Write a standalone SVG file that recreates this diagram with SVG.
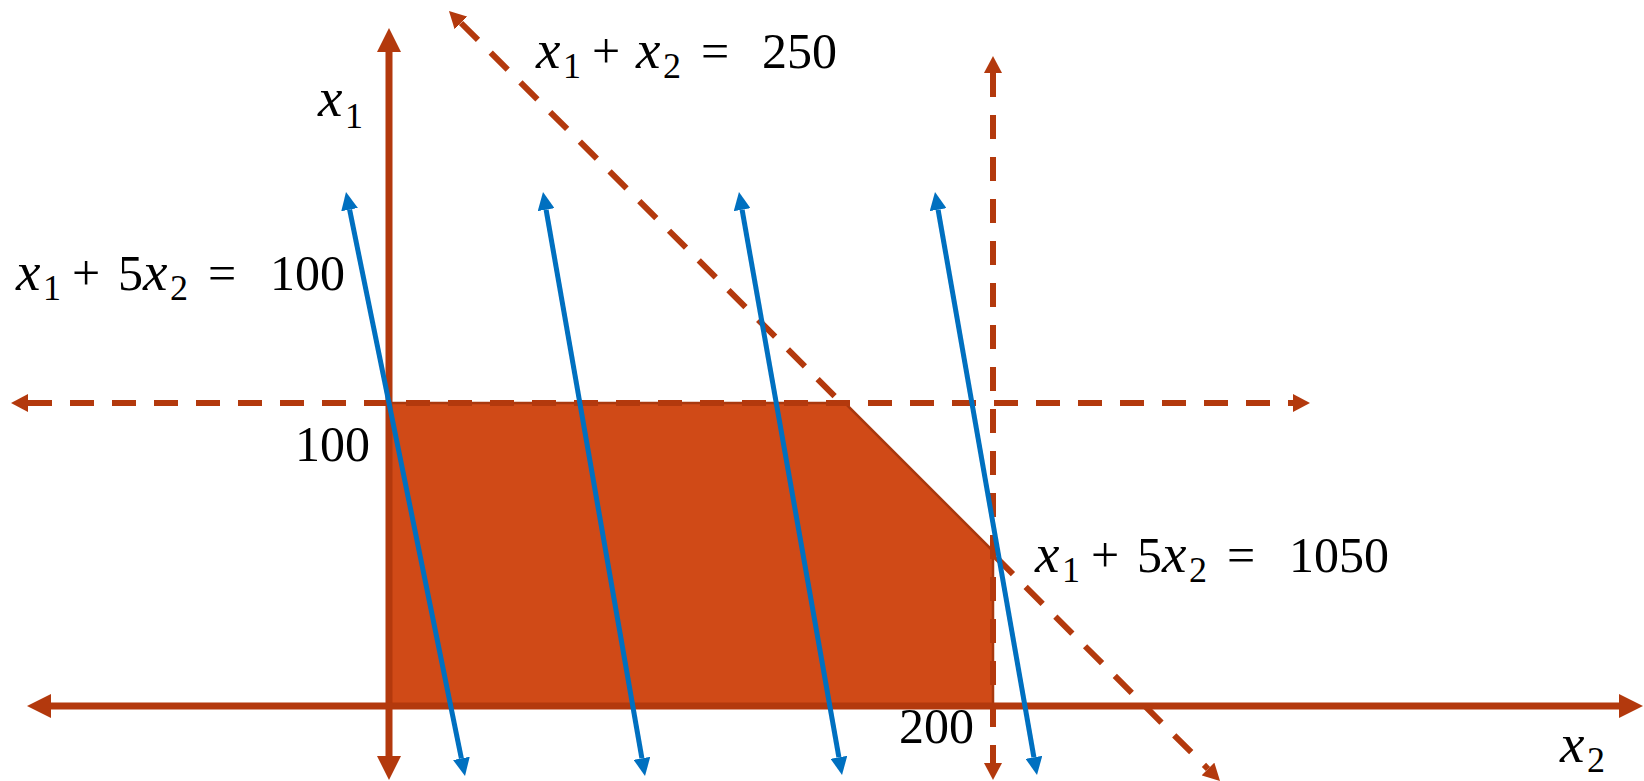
<svg xmlns="http://www.w3.org/2000/svg" width="1644" height="781" viewBox="0 0 1644 781">
<style>
.axis{stroke:#B3390D;stroke-width:7;fill:none}
.dash{stroke:#B3390D;stroke-width:6;fill:none;stroke-dasharray:24 18}
.obj{stroke:#0070C0;stroke-width:5;fill:none}
.region{fill:#D04A17;stroke:#A8380E;stroke-width:2.5}
text{font-family:"Liberation Serif","Times New Roman",serif;font-size:50px;fill:#000}
.v{font-style:italic;font-size:55px}
.s{font-size:36px}
</style>
<defs>
<marker id="ahAxis" markerUnits="userSpaceOnUse" viewBox="0 -12 24 24" markerWidth="24" markerHeight="24" refX="0" refY="0" orient="auto-start-reverse"><path d="M0,-12 L24,0 L0,12 z" fill="#B3390D"/></marker>
<marker id="ahDash" markerUnits="userSpaceOnUse" viewBox="0 -9 17 18" markerWidth="17" markerHeight="18" refX="0" refY="0" orient="auto-start-reverse"><path d="M0,-9 L17,0 L0,9 z" fill="#B3390D"/></marker>
<marker id="ahObj" markerUnits="userSpaceOnUse" viewBox="0 -8.5 18 17" markerWidth="18" markerHeight="17" refX="0" refY="0" orient="auto-start-reverse"><path d="M0,-8.5 L18,0 L0,8.5 z" fill="#0070C0"/></marker>
</defs>
<rect width="1644" height="781" fill="#fff"/>
<g id="connectors">
<line id="c-diag" class="dash" x1="461" y1="23" x2="1208" y2="769" marker-start="url(#ahDash)" marker-end="url(#ahDash)"/>
</g>
<g id="feasible-region">
<polygon class="region" points="389,403 845,403 993,551 993,706 389,706"/>
</g>
<g id="constraints">
<line class="dash" x1="28" y1="403" x2="1293" y2="403" marker-start="url(#ahDash)" marker-end="url(#ahDash)"/>
<line class="dash" x1="993" y1="73" x2="993" y2="763" marker-start="url(#ahDash)" marker-end="url(#ahDash)"/>
</g>
<g id="axes">
<line class="axis" x1="389" y1="52" x2="389" y2="756" marker-start="url(#ahAxis)" marker-end="url(#ahAxis)"/>
<line class="axis" x1="51" y1="706" x2="1619" y2="706" marker-start="url(#ahAxis)" marker-end="url(#ahAxis)"/>
</g>
<g id="objective-lines">
<line class="obj" x1="349.6" y1="209.6" x2="461.4" y2="758.4" marker-start="url(#ahObj)" marker-end="url(#ahObj)"/>
<line class="obj" x1="546.1" y1="209.7" x2="641.9" y2="758.3" marker-start="url(#ahObj)" marker-end="url(#ahObj)"/>
<line class="obj" x1="742.1" y1="209.7" x2="838.9" y2="757.3" marker-start="url(#ahObj)" marker-end="url(#ahObj)"/>
<line class="obj" x1="938.1" y1="209.7" x2="1033.9" y2="757.3" marker-start="url(#ahObj)" marker-end="url(#ahObj)"/>
</g>
<g id="labels">
<text id="lbl-x1"><tspan class="v" x="318" y="116">x</tspan><tspan class="s" x="345" y="128">1</tspan></text>
<text id="lbl-x2"><tspan class="v" x="1560" y="762">x</tspan><tspan class="s" x="1587" y="772">2</tspan></text>
<text id="lbl-100" x="295" y="461">100</text>
<text id="lbl-200" x="899" y="743">200</text>
<text id="eq-250"><tspan class="v" x="536" y="68">x</tspan><tspan class="s" x="563" y="78">1</tspan><tspan x="592" y="68">+</tspan><tspan class="v" x="636" y="68">x</tspan><tspan class="s" x="663" y="78">2</tspan><tspan x="701" y="68">=</tspan><tspan x="762" y="68">250</tspan></text>
<text id="eq-100"><tspan class="v" x="16" y="290">x</tspan><tspan class="s" x="43" y="300">1</tspan><tspan x="72" y="290">+</tspan><tspan x="118" y="290">5</tspan><tspan class="v" x="143" y="290">x</tspan><tspan class="s" x="170" y="300">2</tspan><tspan x="208" y="290">=</tspan><tspan x="270" y="290">100</tspan></text>
<text id="eq-1050"><tspan class="v" x="1035" y="572">x</tspan><tspan class="s" x="1062" y="582">1</tspan><tspan x="1091" y="572">+</tspan><tspan x="1137" y="572">5</tspan><tspan class="v" x="1162" y="572">x</tspan><tspan class="s" x="1189" y="582">2</tspan><tspan x="1227" y="572">=</tspan><tspan x="1289" y="572">1050</tspan></text>
</g>
</svg>
